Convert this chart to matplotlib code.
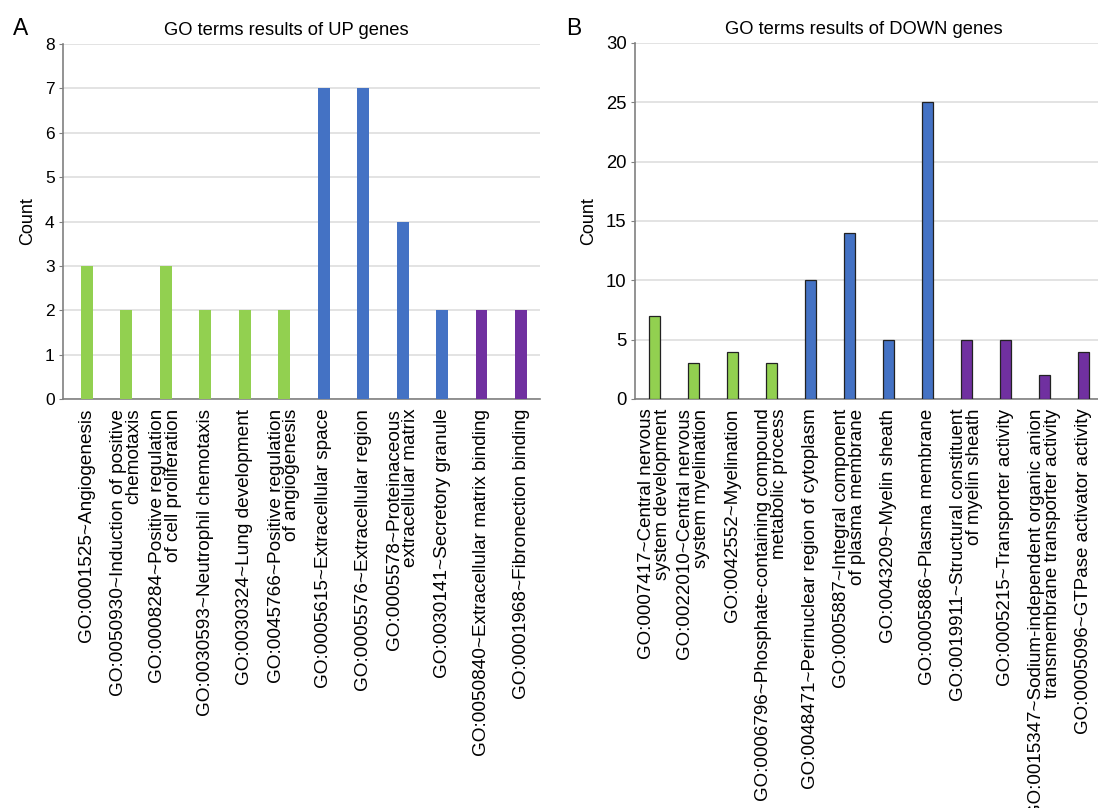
import matplotlib.pyplot as plt
import numpy as np

plt.rcParams['font.family'] = ['Liberation Sans', 'DejaVu Sans']

up_terms = [
    'GO:0001525~Angiogenesis',
    'GO:0050930~Induction of positive\nchemotaxis',
    'GO:0008284~Positive regulation\nof cell proliferation',
    'GO:0030593~Neutrophil chemotaxis',
    'GO:0030324~Lung development',
    'GO:0045766~Positive regulation\nof angiogenesis',
    'GO:0005615~Extracellular space',
    'GO:0005576~Extracellular region',
    'GO:0005578~Proteinaceous\nextracellular matrix',
    'GO:0030141~Secretory granule',
    'GO:0050840~Extracellular matrix binding',
    'GO:0001968~Fibronection binding',
]
up_counts = [3, 2, 3, 2, 2, 2, 7, 7, 4, 2, 2, 2]
up_groups = ['BP'] * 6 + ['CC'] * 4 + ['MF'] * 2

down_terms = [
    'GO:0007417~Central nervous\nsystem development',
    'GO:0022010~Central nervous\nsystem myelination',
    'GO:0042552~Myelination',
    'GO:0006796~Phosphate-containing compound\nmetabolic process',
    'GO:0048471~Perinuclear region of cytoplasm',
    'GO:0005887~Integral component\nof plasma membrane',
    'GO:0043209~Myelin sheath',
    'GO:0005886~Plasma membrane',
    'GO:0019911~Structural constituent\nof myelin sheath',
    'GO:0005215~Transporter activity',
    'GO:0015347~Sodium-independent organic anion\ntransmembrane transporter activity',
    'GO:0005096~GTPase activator activity',
]
down_counts = [7, 3, 4, 3, 10, 14, 5, 25, 5, 5, 2, 4]
down_groups = ['BP'] * 4 + ['CC'] * 4 + ['MF'] * 4

group_colors = {'BP': '#92D050', 'CC': '#4472C4', 'MF': '#7030A0'}

fig = plt.figure(figsize=(10.98, 8.08), dpi=100)
axA = fig.add_axes([0.0574, 0.5062, 0.4344, 0.4393])
axB = fig.add_axes([0.5783, 0.5062, 0.4262, 0.4406])


def draw_panel(ax, terms, counts, groups, ymax, ystep, title, edge,
               xlim, label_fs, tick_fs, title_x):
    x = np.arange(len(terms))
    colors = [group_colors[g] for g in groups]
    if edge:
        ax.bar(x, counts, width=0.3, color=colors, edgecolor='#222222',
               linewidth=0.9, zorder=3)
    else:
        ax.bar(x, counts, width=0.3, color=colors, zorder=3)
    ax.set_xlim(*xlim)
    ax.set_ylim(0, ymax)
    ax.set_yticks(np.arange(0, ymax + 1, ystep))
    ax.yaxis.grid(True, color='#e3e3e3', linewidth=1.4, zorder=0)
    ax.set_axisbelow(True)
    ax.set_xticks(x)
    ax.set_xticklabels(terms, rotation=90, ha='center', va='top',
                       multialignment='right', fontsize=label_fs,
                       linespacing=0.88)
    ax.tick_params(axis='x', length=0, pad=7)
    ax.tick_params(axis='y', labelsize=tick_fs, length=3, color='#808080', pad=3)
    for s in ['top', 'right']:
        ax.spines[s].set_visible(False)
    for s in ['left', 'bottom']:
        ax.spines[s].set_color('#808080')
        ax.spines[s].set_linewidth(1.2)
    ax.set_ylabel('Count', fontsize=13, labelpad=6)
    ax.set_title(title, fontsize=13.2, pad=6.5, x=title_x)


draw_panel(axA, up_terms, up_counts, up_groups, 8, 1,
           'GO terms results of UP genes', False,
           (-0.6, 11.48), 13.7, 12.5, 0.468)
draw_panel(axB, down_terms, down_counts, down_groups, 30, 5,
           'GO terms results of DOWN genes', True,
           (-0.5, 11.5), 13.5, 13.3, 0.49)

fig.text(0.012, 0.965, 'A', fontsize=16.5, ha='left', va='center')
fig.text(0.516, 0.965, 'B', fontsize=16.5, ha='left', va='center')

fig.savefig('out.png', dpi=100)
